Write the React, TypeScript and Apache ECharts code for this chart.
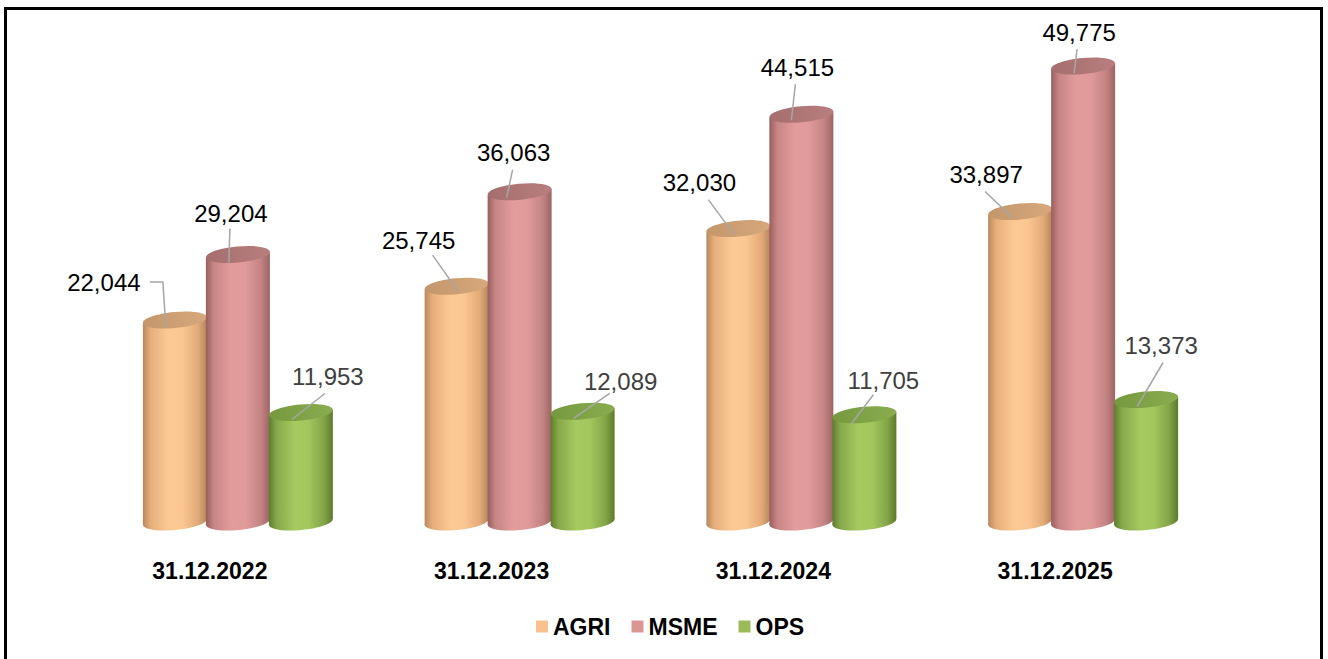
import React, { useEffect, useRef } from "react";
import * as echarts from "echarts";

const CATEGORIES = ["31.12.2022", "31.12.2023", "31.12.2024", "31.12.2025"];
const SERIES_NAMES = ["AGRI", "MSME", "OPS"];
const AGRI = [22044, 25745, 32030, 33897];
const MSME = [29204, 36063, 44515, 49775];
const OPS = [11953, 12089, 11705, 13373];
const SERIES_VALUES = [AGRI, MSME, OPS];

// layout: label centre offsets relative to the top centre of each cylinder
const LABEL_OFFSETS = [
  [[-71, -38], [-38, -46], [-39, -46], [-34, -37]],
  [[-7, -41], [-6, -39], [-4, -47], [-4, -34]],
  [[27, -36], [38, -30], [19, -34], [15, -54]],
];
// layout: leader line points relative to the top centre of each cylinder
const LEADERS = [
  [
    [[-25, -38], [-12, -38], [-9, 8]],
    [[-24, -31], [2, 6]],
    [[-30, -29], [-5, 5]],
    [[-35, -20], [-8, 6]],
  ],
  [
    [[-8, -26], [-9, 8]],
    [[-7, -22], [-13, 6]],
    [[-6, -30], [-10, 6]],
    [[-6, -17], [-9, 7]],
  ],
  [
    [[24, -19], [-9, 7]],
    [[27, -18], [-9, 7]],
    [[9, -20], [-13, 9]],
    [[17, -37], [-9, 7]],
  ],
];

const LEGEND_COLORS = ["#FAC090", "#D99694", "#9BBB59"];
const BODY_STOPS = [
  ["#b8895d", "#e6ae7b", "#fcc995", "#fbc692", "#e2aa78", "#b3865c"],
  ["#9a5d5d", "#c78585", "#e39c9c", "#e09a9a", "#c48383", "#9d6464"],
  ["#5f7d2e", "#86a84b", "#a6ca60", "#a3c65d", "#83a447", "#5d7a2c"],
];
const TOP_COLORS = [
  ["#c4966b", "#d6a87c"],
  ["#a56d6d", "#b97f7f"],
  ["#76993f", "#88ac4e"],
];
const LABEL_COLORS = ["#000000", "#000000", "#404040"];
const FONT = "'Liberation Sans', Arial, Helvetica, sans-serif";

const BAR_STEP = 63;
const RX = 32;
const RY = 8;
const ROT = Math.atan(3 / 32);

function makeRender(si: number) {
  return (params: any, api: any) => {
    const ci = api.value(0);
    const v = api.value(1);
    const top = api.coord([ci, v]);
    const base = api.coord([ci, 0]);
    const cx = top[0] + (si - 1) * BAR_STEP;
    const ty = top[1];
    const by = base[1];
    const tilt = Math.tan(ROT) * RX;
    const s = BODY_STOPS[si];
    const bodyGrad = () =>
      new echarts.graphic.LinearGradient(0, 0, 1, 0, [
        { offset: 0, color: s[0] },
        { offset: 0.12, color: s[1] },
        { offset: 0.4, color: s[2] },
        { offset: 0.62, color: s[3] },
        { offset: 0.86, color: s[4] },
        { offset: 1, color: s[5] },
      ]);
    const topGrad = new echarts.graphic.LinearGradient(0, 0, 1, 0, [
      { offset: 0, color: TOP_COLORS[si][0] },
      { offset: 1, color: TOP_COLORS[si][1] },
    ]);
    const lab = LABEL_OFFSETS[si][ci];
    const leader = LEADERS[si][ci];
    return {
      type: "group",
      children: [
        {
          type: "ellipse",
          x: cx,
          y: by,
          rotation: ROT,
          shape: { cx: 0, cy: 0, rx: RX, ry: RY },
          style: { fill: bodyGrad() },
        },
        {
          type: "polygon",
          shape: {
            points: [
              [cx - RX, ty + tilt],
              [cx + RX, ty - tilt],
              [cx + RX, by - tilt],
              [cx - RX, by + tilt],
            ],
          },
          style: { fill: bodyGrad() },
        },
        {
          type: "ellipse",
          x: cx,
          y: ty,
          rotation: ROT,
          shape: { cx: 0, cy: 0, rx: RX, ry: RY },
          style: { fill: topGrad },
        },
        {
          type: "polyline",
          shape: { points: leader.map(([dx, dy]) => [cx + dx, ty + dy]) },
          style: { stroke: "#a6a6a6", lineWidth: 1.5, fill: null },
        },
        {
          type: "text",
          x: cx + lab[0],
          y: ty + lab[1],
          style: {
            text: Number(v).toLocaleString("en-US"),
            fontSize: 24,
            fontFamily: FONT,
            fill: LABEL_COLORS[si],
            align: "center",
            verticalAlign: "middle",
          },
        },
      ],
    };
  };
}

export default function App() {
  const ref = useRef<HTMLDivElement>(null);
  useEffect(() => {
    if (!ref.current) return;
    const chart = echarts.init(ref.current, null, { renderer: "svg" });
    chart.setOption({
      animation: false,
      backgroundColor: "#ffffff",
      grid: { left: 97, right: 104, top: 64, bottom: 137, containLabel: false },
      xAxis: {
        type: "category",
        data: CATEGORIES,
        axisLine: { show: false },
        axisTick: { show: false },
        splitLine: { show: false },
        axisLabel: {
          margin: 37,
          color: "#000",
          fontSize: 23,
          fontWeight: "bold",
          fontFamily: FONT,
          padding: [0, 56, 0, 0],
        },
      },
      yAxis: { type: "value", min: 0, max: 50000, show: false, splitLine: { show: false } },
      legend: {
        data: SERIES_NAMES,
        left: 531,
        top: 610,
        itemWidth: 12,
        itemHeight: 12,
        itemGap: 21,
        icon: "rect",
        textStyle: { fontSize: 23, fontWeight: "bold", color: "#000", fontFamily: FONT },
      },
      graphic: [
        {
          type: "rect",
          shape: { x: 5.5, y: 8.5, width: 1316, height: 700 },
          style: { stroke: "#000", lineWidth: 3, fill: "none" },
          silent: true,
        },
      ],
      series: SERIES_NAMES.map((name, si) => ({
        name,
        type: "custom",
        clip: false,
        itemStyle: { color: LEGEND_COLORS[si] },
        data: SERIES_VALUES[si].map((v, i) => [i, v]),
        encode: { x: 0, y: 1 },
        renderItem: makeRender(si),
      })),
    });
    return () => chart.dispose();
  }, []);
  return (
    <div
      ref={ref}
      style={{ position: "fixed", left: 0, top: 0, width: 1328, height: 659 }}
    />
  );
}
